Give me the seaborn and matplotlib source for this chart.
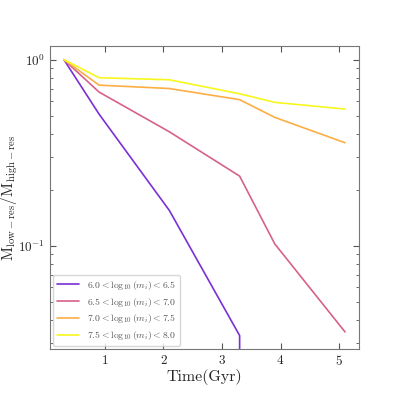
import matplotlib
matplotlib.use("Agg")
import matplotlib.pyplot as plt
import seaborn as sns
import pandas as pd
import numpy as np

time_gyr = [0.3, 0.9, 2.1, 3.3, 3.9, 5.1]
ratio_60_65 = [1.0, 0.51, 0.155, 0.033, 0.0, 0.0]
ratio_65_70 = [1.0, 0.67, 0.41, 0.237, 0.1025, 0.0345]
ratio_70_75 = [1.0, 0.73, 0.70, 0.61, 0.49, 0.358]
ratio_75_80 = [1.0, 0.80, 0.78, 0.656, 0.59, 0.543]
labels = [r"$6.0 < \log_{10}(m_i) < 6.5$",
          r"$6.5 < \log_{10}(m_i) < 7.0$",
          r"$7.0 < \log_{10}(m_i) < 7.5$",
          r"$7.5 < \log_{10}(m_i) < 8.0$"]
colors = ["#7b2fd6", "#d6618a", "#fcae45", "#f7f71e"]

sns.set_style("ticks")
plt.rcParams["font.family"] = "serif"
plt.rcParams["font.serif"] = ["cmr10", "DejaVu Serif"]
plt.rcParams["mathtext.fontset"] = "cm"
plt.rcParams["axes.formatter.use_mathtext"] = True

rows = []
for lab, vals in zip(labels, [ratio_60_65, ratio_65_70, ratio_70_75, ratio_75_80]):
    for t, v in zip(time_gyr, vals):
        rows.append({"time": t, "ratio": v, "bin": lab})
df = pd.DataFrame(rows)

fig = plt.figure(figsize=(3.99, 3.99), dpi=100)
ax = fig.add_axes([0.125, 0.125, 0.775, 0.76])
ax.set_yscale("log")
sns.lineplot(data=df, x="time", y="ratio", hue="bin", hue_order=labels,
             palette=colors, estimator=None, sort=False, lw=1.2, ax=ax, legend=False)

ax.set_xlim(0.06, 5.34)
ax.set_ylim(0.0279, 1.186)
ax.set_xticks([1, 2, 3, 4, 5])
ax.tick_params(which="both", direction="in", top=True, right=True, labelsize=9.5, color="#555555")
ax.tick_params(which="major", length=4)
ax.tick_params(which="minor", length=2)
for s in ax.spines.values():
    s.set_color("#777777")
ax.set_xlabel("Time(Gyr)", fontsize=11.5, labelpad=1)
ax.set_ylabel(r"$\mathrm{M_{low-res}/M_{high-res}}$", fontsize=11)
ax.yaxis.set_label_coords(-0.095, 0.5)
handles = ax.get_lines()[:4]
leg = ax.legend(handles, labels, loc="lower left", fontsize=7, frameon=True,
                handlelength=2.3, borderaxespad=0.3, labelspacing=0.4)
for t in leg.get_texts():
    t.set_color("#555555")
fig.savefig("out.png", dpi=100)
